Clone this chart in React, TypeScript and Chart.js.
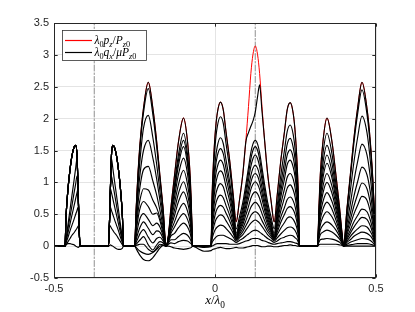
import React, { useEffect, useRef } from "react";
import { Chart, registerables } from "chart.js";

Chart.register(...registerables);

// x positions (x / lambda0) shared by all curves
const X = [
  -0.5,
  -0.4658, -0.4627, -0.4565, -0.4503, -0.4441, -0.4378, -0.4326, -0.4285, -0.4254, -0.4223, -0.4192,
  -0.3309, -0.3278, -0.3247, -0.3216, -0.3175, -0.3123, -0.306, -0.2998, -0.2936, -0.2874, -0.2843,
  -0.27,
  -0.2498, -0.2448, -0.2395, -0.2324, -0.2221, -0.2072, -0.1929, -0.1811, -0.1711, -0.1612, -0.1518,
  -0.1447, -0.1369, -0.1257, -0.1133, -0.0978, -0.0853, -0.0772, -0.0732, -0.0698,
  -0.0524, -0.0337,
  -0.012, -0.0095, -0.0054, 0.0008, 0.007, 0.0169, 0.0256, 0.034, 0.0459, 0.0567, 0.0657,
  0.076, 0.0866, 0.0959, 0.104, 0.1114, 0.1177, 0.125, 0.1323, 0.1385, 0.1459, 0.154, 0.1634, 0.1739, 0.1839,
  0.1932, 0.2041, 0.2159, 0.2243, 0.2336, 0.2429, 0.2491, 0.2554, 0.2594, 0.2622,
  0.2896,
  0.3185, 0.3228, 0.3269, 0.3353, 0.3477, 0.3632, 0.3757, 0.3869, 0.3952, 0.3993,
  0.4099, 0.4201, 0.4304, 0.4428, 0.4565, 0.472, 0.4823, 0.4894, 0.4947, 0.5,
];

// red: lambda0 p_z / P_z0
const P_RED = [
  0,
  0, 0.45, 0.9, 1.2, 1.42, 1.55, 1.58, 1.42, 0.92, 0.35, 0,
  0, 0.35, 0.92, 1.42, 1.58, 1.55, 1.42, 1.2, 0.9, 0.45, 0,
  0,
  0, 0.59, 1.11, 1.64, 2.16, 2.57, 2.16, 1.64, 1.11, 0.59, 0,
  0.17, 0.6, 1.11, 1.64, 2.01, 1.64, 1.11, 0.6, 0,
  0, 0,
  0, 0.7, 1.25, 1.78, 2.08, 2.26, 2.14, 1.8, 1.33, 0.8, 0.38,
  0.72, 1.14, 1.66, 2.19, 2.71, 3.0, 3.14, 3.0, 2.71, 2.19, 1.66, 1.14, 0.72, 0.38,
  0.8, 1.33, 1.8, 2.14, 2.25, 2.08, 1.78, 1.25, 0.7, 0,
  0,
  0, 0.6, 1.11, 1.64, 2.01, 1.64, 1.11, 0.6, 0.17, 0,
  0.59, 1.11, 1.64, 2.16, 2.57, 2.16, 1.64, 1.11, 0.59, 0,
];

// black: lambda0 q_x / mu P_z0 (family of curves)
const Q0 = [
  0,
  0, 0.45, 0.9, 1.2, 1.42, 1.55, 1.58, 1.42, 0.92, 0.35, 0,
  0, 0.35, 0.92, 1.42, 1.58, 1.55, 1.42, 1.2, 0.9, 0.45, 0,
  0,
  0, 0.59, 1.11, 1.64, 2.16, 2.57, 2.16, 1.64, 1.11, 0.59, 0,
  0.17, 0.6, 1.11, 1.64, 2.01, 1.64, 1.11, 0.6, 0,
  0, 0,
  0, 0.7, 1.25, 1.78, 2.08, 2.26, 2.14, 1.8, 1.33, 0.8, 0.38,
  0.72, 1.14, 1.64, 1.78, 1.88, 1.96, 2.1, 2.35, 2.53, 2.12, 1.66, 1.14, 0.72, 0.38,
  0.8, 1.33, 1.8, 2.14, 2.25, 2.08, 1.78, 1.25, 0.7, 0,
  0,
  0, 0.6, 1.11, 1.64, 2.01, 1.64, 1.11, 0.6, 0.17, 0,
  0.59, 1.11, 1.64, 2.16, 2.57, 2.16, 1.64, 1.11, 0.59, 0,
];
const Q1 = [
  0,
  0, 0.45, 0.9, 1.2, 1.42, 1.55, 1.58, 1.42, 0.92, 0.35, 0,
  0, 0.35, 0.92, 1.42, 1.58, 1.55, 1.42, 1.2, 0.9, 0.45, 0,
  0,
  0, 0.57, 1.07, 1.58, 2.09, 2.47, 2.06, 1.56, 1.05, 0.56, 0,
  0.15, 0.53, 0.98, 1.44, 1.77, 1.44, 0.98, 0.53, 0,
  0, 0,
  0, 0.63, 1.12, 1.6, 1.87, 2.03, 1.93, 1.62, 1.2, 0.72, 0.27,
  0.46, 0.69, 0.97, 1.23, 1.47, 1.6, 1.66, 1.6, 1.47, 1.23, 0.97, 0.69, 0.46, 0.27,
  0.63, 1.1, 1.51, 1.8, 1.9, 1.75, 1.5, 1.06, 0.59, 0,
  0,
  0, 0.53, 0.97, 1.45, 1.77, 1.45, 0.97, 0.53, 0.15, 0,
  0.56, 1.06, 1.57, 2.07, 2.45, 2.07, 1.57, 1.06, 0.56, 0,
];
const Q2 = [
  0,
  0, 0.45, 0.9, 1.2, 1.42, 1.55, 1.58, 1.42, 0.92, 0.35, 0,
  0, 0.35, 0.92, 1.42, 1.58, 1.55, 1.42, 1.2, 0.9, 0.45, 0,
  0,
  0, 0.5, 0.92, 1.38, 1.85, 2.05, 1.7, 1.28, 0.86, 0.46, 0,
  0.14, 0.5, 0.92, 1.35, 1.66, 1.35, 0.92, 0.5, 0,
  0, 0,
  0, 0.53, 0.94, 1.34, 1.56, 1.7, 1.61, 1.36, 1.0, 0.6, 0.2,
  0.39, 0.61, 0.88, 1.14, 1.37, 1.5, 1.56, 1.5, 1.37, 1.14, 0.88, 0.61, 0.39, 0.2,
  0.53, 0.96, 1.33, 1.6, 1.69, 1.55, 1.34, 0.95, 0.52, 0,
  0,
  0, 0.47, 0.87, 1.3, 1.58, 1.3, 0.87, 0.47, 0.13, 0,
  0.45, 0.86, 1.28, 1.7, 2.04, 1.78, 1.34, 0.9, 0.48, 0,
];
const Q3 = [
  0,
  0, 0.45, 0.9, 1.2, 1.42, 1.55, 1.58, 1.42, 0.92, 0.35, 0,
  0, 0.35, 0.92, 1.42, 1.58, 1.55, 1.42, 1.2, 0.9, 0.45, 0,
  0,
  0, 0.42, 0.78, 1.15, 1.5, 1.66, 1.38, 1.05, 0.72, 0.38, 0,
  0.14, 0.47, 0.86, 1.27, 1.56, 1.27, 0.86, 0.47, 0,
  0, 0,
  0, 0.47, 0.84, 1.21, 1.41, 1.53, 1.45, 1.22, 0.9, 0.54, 0.17,
  0.35, 0.55, 0.8, 1.04, 1.25, 1.37, 1.43, 1.37, 1.25, 1.04, 0.8, 0.55, 0.35, 0.17,
  0.46, 0.85, 1.19, 1.43, 1.51, 1.39, 1.19, 0.85, 0.47, 0,
  0,
  0, 0.43, 0.79, 1.17, 1.43, 1.17, 0.79, 0.43, 0.12, 0,
  0.35, 0.66, 0.99, 1.32, 1.6, 1.43, 1.08, 0.72, 0.38, 0,
];
const Q4 = [
  0,
  0, 0.45, 0.9, 1.2, 1.42, 1.55, 1.58, 1.42, 0.92, 0.35, 0,
  0, 0.35, 0.92, 1.42, 1.58, 1.55, 1.42, 1.2, 0.9, 0.45, 0,
  0,
  0, 0.35, 0.65, 0.95, 1.2, 1.25, 1.02, 0.8, 0.56, 0.3, 0,
  0.13, 0.43, 0.77, 1.13, 1.38, 1.13, 0.76, 0.41, 0,
  0, 0,
  0, 0.42, 0.74, 1.07, 1.24, 1.35, 1.28, 1.08, 0.8, 0.48, 0.15,
  0.31, 0.49, 0.71, 0.92, 1.11, 1.22, 1.27, 1.22, 1.11, 0.92, 0.71, 0.49, 0.31, 0.15,
  0.41, 0.76, 1.06, 1.28, 1.35, 1.24, 1.07, 0.76, 0.42, 0,
  0,
  0, 0.39, 0.72, 1.07, 1.3, 1.07, 0.72, 0.39, 0.11, 0,
  0.27, 0.51, 0.76, 1.01, 1.24, 1.12, 0.85, 0.56, 0.3, 0,
];
const Q5 = [
  0,
  0, 0.45, 0.9, 1.2, 1.42, 1.55, 1.58, 1.42, 0.92, 0.35, 0,
  0, 0.35, 0.92, 1.42, 1.58, 1.55, 1.42, 1.2, 0.9, 0.45, 0,
  0,
  0, 0.28, 0.52, 0.74, 0.9, 0.88, 0.72, 0.6, 0.45, 0.25, 0,
  0.12, 0.38, 0.67, 0.97, 1.19, 0.97, 0.66, 0.36, 0,
  0, 0,
  0, 0.37, 0.65, 0.93, 1.09, 1.18, 1.12, 0.94, 0.7, 0.42, 0.14,
  0.28, 0.44, 0.64, 0.83, 1.0, 1.1, 1.14, 1.1, 1.0, 0.83, 0.64, 0.44, 0.28, 0.14,
  0.36, 0.65, 0.9, 1.08, 1.14, 1.05, 0.9, 0.64, 0.35, 0,
  0,
  0, 0.35, 0.64, 0.94, 1.14, 0.94, 0.64, 0.35, 0.1, 0,
  0.22, 0.41, 0.61, 0.81, 0.99, 0.9, 0.68, 0.45, 0.24, 0,
];
const Q6 = [
  0,
  0, 0.45, 0.9, 1.2, 1.42, 1.55, 1.58, 1.42, 0.92, 0.35, 0,
  0, 0.35, 0.92, 1.42, 1.58, 1.55, 1.42, 1.2, 0.9, 0.45, 0,
  0,
  0, 0.22, 0.42, 0.6, 0.7, 0.62, 0.5, 0.52, 0.4, 0.2, 0,
  0.11, 0.33, 0.57, 0.83, 1.01, 0.82, 0.56, 0.3, 0,
  0, 0,
  0, 0.3, 0.54, 0.77, 0.9, 0.98, 0.93, 0.78, 0.58, 0.35, 0.13,
  0.25, 0.39, 0.57, 0.74, 0.89, 0.97, 1.01, 0.97, 0.89, 0.74, 0.57, 0.39, 0.25, 0.13,
  0.31, 0.55, 0.76, 0.91, 0.96, 0.88, 0.76, 0.54, 0.3, 0,
  0,
  0, 0.31, 0.57, 0.83, 1.0, 0.83, 0.57, 0.31, 0.09, 0,
  0.18, 0.33, 0.49, 0.64, 0.78, 0.72, 0.54, 0.36, 0.19, 0,
];
const Q7 = [
  0,
  0, 0.45, 0.9, 1.2, 1.42, 1.55, 1.58, 1.42, 0.92, 0.35, 0,
  0, 0.35, 0.92, 1.42, 1.58, 1.55, 1.42, 1.2, 0.9, 0.45, 0,
  0,
  0, 0.15, 0.3, 0.44, 0.51, 0.42, 0.32, 0.36, 0.3, 0.16, 0,
  0.1, 0.29, 0.48, 0.7, 0.85, 0.69, 0.47, 0.25, 0,
  0, 0,
  0, 0.25, 0.44, 0.63, 0.74, 0.8, 0.76, 0.64, 0.48, 0.3, 0.12,
  0.22, 0.34, 0.49, 0.62, 0.75, 0.82, 0.85, 0.82, 0.75, 0.62, 0.49, 0.34, 0.22, 0.12,
  0.26, 0.45, 0.61, 0.73, 0.77, 0.71, 0.61, 0.43, 0.24, 0,
  0,
  0, 0.27, 0.49, 0.7, 0.84, 0.7, 0.49, 0.27, 0.08, 0,
  0.14, 0.25, 0.37, 0.48, 0.58, 0.54, 0.41, 0.27, 0.14, 0,
];
const Q8 = [
  0,
  0, 0.11, 0.34, 0.57, 0.8, 1.03, 1.23, 1.375, 0.92, 0.35, 0,
  0, 0.35, 0.92, 1.375, 1.23, 1.03, 0.8, 0.57, 0.34, 0.11, 0,
  0,
  0, 0.1, 0.2, 0.3, 0.38, 0.28, 0.18, 0.24, 0.22, 0.12, 0,
  0.09, 0.24, 0.38, 0.55, 0.67, 0.55, 0.37, 0.2, 0,
  0, 0,
  0, 0.2, 0.35, 0.5, 0.59, 0.64, 0.61, 0.52, 0.39, 0.25, 0.11,
  0.19, 0.28, 0.4, 0.51, 0.61, 0.66, 0.69, 0.66, 0.61, 0.51, 0.4, 0.28, 0.19, 0.11,
  0.22, 0.37, 0.5, 0.59, 0.62, 0.57, 0.49, 0.35, 0.19, 0,
  0,
  0, 0.23, 0.41, 0.58, 0.69, 0.58, 0.41, 0.23, 0.07, 0,
  0.11, 0.2, 0.29, 0.38, 0.45, 0.42, 0.32, 0.21, 0.11, 0,
];
const Q9 = [
  0,
  0, 0.09, 0.28, 0.46, 0.64, 0.83, 0.98, 1.1, 0.92, 0.35, 0,
  0, 0.35, 0.92, 1.1, 0.98, 0.83, 0.64, 0.46, 0.28, 0.09, 0,
  0,
  0, 0.06, 0.12, 0.2, 0.26, 0.14, 0.05, 0.12, 0.14, 0.08, 0,
  0.08, 0.2, 0.3, 0.42, 0.51, 0.42, 0.28, 0.15, 0,
  0, 0,
  0, 0.15, 0.27, 0.39, 0.45, 0.49, 0.47, 0.4, 0.3, 0.2, 0.1,
  0.16, 0.23, 0.32, 0.4, 0.48, 0.52, 0.54, 0.52, 0.48, 0.4, 0.32, 0.23, 0.16, 0.1,
  0.18, 0.28, 0.37, 0.44, 0.46, 0.42, 0.36, 0.26, 0.14, 0,
  0,
  0, 0.19, 0.33, 0.46, 0.54, 0.46, 0.33, 0.19, 0.06, 0,
  0.08, 0.15, 0.21, 0.27, 0.32, 0.3, 0.23, 0.16, 0.08, 0,
];
const Q10 = [
  0,
  0, 0.07, 0.21, 0.35, 0.49, 0.63, 0.75, 0.84, 0.9, 0.35, 0,
  0, 0.35, 0.9, 0.84, 0.75, 0.63, 0.49, 0.35, 0.21, 0.07, 0,
  0,
  0, 0.03, 0.06, 0.1, 0.15, 0.02, -0.06, 0.02, 0.07, 0.05, 0,
  0.07, 0.16, 0.2, 0.29, 0.36, 0.3, 0.2, 0.11, 0,
  0, 0,
  0, 0.1, 0.18, 0.26, 0.3, 0.33, 0.32, 0.28, 0.21, 0.14, 0.08,
  0.13, 0.18, 0.25, 0.31, 0.36, 0.39, 0.41, 0.39, 0.36, 0.31, 0.25, 0.18, 0.13, 0.08,
  0.13, 0.19, 0.25, 0.29, 0.3, 0.28, 0.24, 0.17, 0.09, 0,
  0,
  0, 0.15, 0.25, 0.33, 0.38, 0.33, 0.25, 0.15, 0.05, 0,
  0.06, 0.1, 0.15, 0.19, 0.22, 0.2, 0.16, 0.11, 0.06, 0,
];
const Q11 = [
  0,
  0, 0.05, 0.14, 0.24, 0.33, 0.42, 0.5, 0.56, 0.61, 0.35, 0,
  0, 0.35, 0.61, 0.56, 0.5, 0.42, 0.33, 0.24, 0.14, 0.05, 0,
  0,
  0, 0.01, 0.02, 0.03, 0.03, -0.05, -0.09, -0.03, 0.03, 0.02, 0,
  0.05, 0.1, 0.1, 0.15, 0.2, 0.17, 0.11, 0.06, 0,
  0, 0,
  0, 0.05, 0.09, 0.13, 0.16, 0.17, 0.17, 0.15, 0.12, 0.09, 0.06,
  0.09, 0.12, 0.16, 0.19, 0.22, 0.24, 0.25, 0.24, 0.22, 0.19, 0.16, 0.12, 0.09, 0.06,
  0.08, 0.12, 0.14, 0.16, 0.17, 0.16, 0.13, 0.1, 0.05, 0,
  0,
  0, 0.11, 0.18, 0.22, 0.25, 0.22, 0.17, 0.11, 0.04, 0,
  0.03, 0.06, 0.08, 0.1, 0.12, 0.11, 0.09, 0.06, 0.03, 0,
];
const Q12 = [
  0,
  0, 0.02, 0.07, 0.12, 0.17, 0.21, 0.25, 0.28, 0.31, 0.33, 0,
  0, 0.33, 0.31, 0.28, 0.25, 0.21, 0.17, 0.12, 0.07, 0.02, 0,
  0,
  0, -0.02, -0.05, -0.08, -0.11, -0.13, -0.1, -0.05, 0, 0.01, 0,
  0.03, 0.05, 0.04, 0.07, 0.09, 0.08, 0.05, 0.03, 0,
  -0.01, -0.02,
  -0.01, 0, 0.01, 0.03, 0.04, 0.04, 0.04, 0.04, 0.03, 0.03, 0.03,
  0.04, 0.06, 0.08, 0.09, 0.11, 0.12, 0.12, 0.12, 0.11, 0.09, 0.08, 0.06, 0.04, 0.03,
  0.04, 0.05, 0.06, 0.07, 0.07, 0.06, 0.05, 0.04, 0.02, 0,
  0,
  0, 0.06, 0.1, 0.11, 0.12, 0.11, 0.09, 0.06, 0.02, 0,
  0.01, 0.02, 0.03, 0.04, 0.04, 0.04, 0.03, 0.02, 0.01, 0,
];
const Q13 = [
  0,
  0, 0.02, 0.04, 0.04, 0.03, 0.02, 0, -0.01, -0.02, -0.01, 0,
  0, 0.01, 0.02, 0.01, 0, -0.02, -0.04, -0.05, -0.05, -0.03, 0,
  0,
  0, -0.04, -0.09, -0.15, -0.21, -0.23, -0.18, -0.1, -0.03, 0.01, 0,
  0, -0.01, -0.03, -0.04, -0.05, -0.04, -0.03, -0.02, 0,
  -0.04, -0.08,
  -0.07, -0.06, -0.05, -0.04, -0.03, -0.02, -0.03, -0.04, -0.04, -0.03, -0.02,
  -0.03, -0.03, -0.02, -0.01, 0, 0.01, 0.01, 0.01, 0, -0.01, -0.01, 0, 0, -0.01,
  -0.01, 0, 0.01, 0.01, 0.02, 0.01, 0.01, 0, 0, 0,
  0,
  0, 0.02, 0.03, 0.03, 0.03, 0.03, 0.03, 0.02, 0.01, 0,
  0, 0, 0, 0, 0, 0, 0, 0, 0, 0,
];

const Q_CURVES = [Q0, Q1, Q2, Q3, Q4, Q5, Q6, Q7, Q8, Q9, Q10, Q11, Q12, Q13];

// vertical dash-dot reference lines
const V_LINES = [-0.375, 0.125];

// axis ranges / tick steps
const X_RANGE = [-0.5, 0.5];
const Y_RANGE = [-0.5, 3.5];
const TICK_STEP = 0.5;

// rich-text runs: [text, kind] kind: i = italic, r = roman, si/sr = subscript
const LEGEND_ITEMS = [
  { color: "#ff0000", runs: [["λ", "i"], ["0", "sr"], ["p", "i"], ["z", "si"], ["/", "r"], ["P", "i"], ["z", "si"], ["0", "sr"]] },
  { color: "#000000", runs: [["λ", "i"], ["0", "sr"], ["q", "i"], ["x", "si"], ["/", "r"], ["μ", "i"], ["P", "i"], ["z", "si"], ["0", "sr"]] },
];
const X_TITLE = [["x", "i"], ["/", "r"], ["λ", "i"], ["0", "sr"]];

const SERIF = '"Liberation Serif", "DejaVu Serif", serif';

function runFont(kind: string, size: number) {
  const sub = kind.startsWith("s");
  const ital = kind.endsWith("i");
  const fs = sub ? size * 0.72 : size;
  return { font: `${ital ? "italic " : ""}${fs}px ${SERIF}`, dy: sub ? size * 0.3 : 0 };
}

function runsWidth(ctx: CanvasRenderingContext2D, runs: string[][], size: number) {
  let w = 0;
  for (const [t, k] of runs) {
    ctx.font = runFont(k, size).font;
    w += ctx.measureText(t).width;
  }
  return w;
}

function drawRuns(ctx: CanvasRenderingContext2D, runs: string[][], x: number, y: number, size: number) {
  ctx.textAlign = "left";
  ctx.textBaseline = "alphabetic";
  for (const [t, k] of runs) {
    const f = runFont(k, size);
    ctx.font = f.font;
    ctx.fillText(t, x, y + f.dy);
    x += ctx.measureText(t).width;
  }
}

const fmtTick = (v: any) => String(Math.round(Number(v) * 10) / 10);

const framePlugin = {
  id: "matlabFrame",
  afterDatasetsDraw(chart: any) {
    const { ctx, chartArea, scales } = chart;
    const xs = scales.x;
    const ys = scales.y;
    const L = Math.round(chartArea.left) + 0.5;
    const R = Math.round(chartArea.right) - 0.5;
    const T = Math.round(chartArea.top) + 0.5;
    const B = Math.round(chartArea.bottom) - 0.5;
    ctx.save();
    ctx.strokeStyle = "#262626";
    ctx.lineWidth = 1;
    ctx.setLineDash([]);
    ctx.strokeRect(L, T, R - L, B - T);
    const tl = 3.2;
    ctx.beginPath();
    xs.ticks.forEach((t: any) => {
      const p = Math.round(xs.getPixelForValue(t.value)) + 0.5;
      ctx.moveTo(p, B);
      ctx.lineTo(p, B - tl);
      ctx.moveTo(p, T);
      ctx.lineTo(p, T + tl);
    });
    ys.ticks.forEach((t: any) => {
      const p = Math.round(ys.getPixelForValue(t.value)) + 0.5;
      ctx.moveTo(L, p);
      ctx.lineTo(L + tl, p);
      ctx.moveTo(R, p);
      ctx.lineTo(R - tl, p);
    });
    ctx.stroke();

    // legend box
    const bx = 62.5, by = 30.5, bw = 84, bh = 30;
    ctx.fillStyle = "#ffffff";
    ctx.fillRect(bx, by, bw, bh);
    ctx.strokeStyle = "#333333";
    ctx.lineWidth = 0.8;
    ctx.strokeRect(bx, by, bw, bh);
    LEGEND_ITEMS.forEach((item, i) => {
      const ly = 40.5 + i * 12;
      ctx.strokeStyle = item.color;
      ctx.lineWidth = 1.2;
      ctx.beginPath();
      ctx.moveTo(65, ly);
      ctx.lineTo(92, ly);
      ctx.stroke();
      ctx.fillStyle = "#000000";
      drawRuns(ctx, item.runs, 94.5, 44 + i * 11.8, 11.5);
    });

    // x-axis title
    const size = 13;
    const cx = (chartArea.left + chartArea.right) / 2;
    const w = runsWidth(ctx, X_TITLE, size);
    ctx.fillStyle = "#000000";
    drawRuns(ctx, X_TITLE, cx - w / 2, 304, size);
    ctx.restore();
  },
};

export default function App() {
  const ref = useRef<HTMLCanvasElement | null>(null);

  useEffect(() => {
    if (!ref.current) return;
    const pts = (ys: number[]) => X.map((x, i) => ({ x, y: ys[i] }));
    const datasets: any[] = [];
    V_LINES.forEach((v) => {
      datasets.push({
        data: [{ x: v, y: Y_RANGE[0] }, { x: v, y: Y_RANGE[1] }],
        borderColor: "rgba(80,80,80,0.8)",
        borderWidth: 0.8,
        borderDash: [6, 2, 1.5, 2],
        cubicInterpolationMode: "default",
        tension: 0,
        order: 3,
      });
    });
    datasets.push({ data: pts(P_RED), borderColor: "#ff0000", borderWidth: 1.0, order: 2 });
    Q_CURVES.forEach((q) => {
      datasets.push({ data: pts(q), borderColor: "#000000", borderWidth: 1.15, order: 1 });
    });

    const tickFont = { family: '"Liberation Sans", Arial, sans-serif', size: 11 };
    const chart = new Chart(ref.current, {
      type: "line",
      data: { datasets },
      options: {
        animation: false,
        responsive: false,
        devicePixelRatio: 1,
        events: [],
        layout: { padding: { left: 0, right: 39, top: 23, bottom: 0 } },
        plugins: { legend: { display: false }, tooltip: { enabled: false } },
        elements: {
          point: { radius: 0 },
          line: { cubicInterpolationMode: "monotone", borderCapStyle: "round", borderJoinStyle: "round" },
        },
        scales: {
          x: {
            type: "linear",
            min: X_RANGE[0],
            max: X_RANGE[1],
            ticks: { stepSize: TICK_STEP, color: "#262626", font: tickFont, padding: 4, maxRotation: 0, callback: fmtTick },
            grid: { color: "#e4e4e4", drawTicks: false },
            border: { display: false },
            afterFit: (s: any) => {
              s.height = 34;
            },
          },
          y: {
            type: "linear",
            min: Y_RANGE[0],
            max: Y_RANGE[1],
            ticks: { stepSize: TICK_STEP, color: "#262626", font: tickFont, padding: 5, callback: fmtTick },
            grid: { color: "#e4e4e4", drawTicks: false },
            border: { display: false },
            afterFit: (s: any) => {
              s.width = 54;
            },
          },
        },
      },
      plugins: [framePlugin],
    } as any);
    return () => chart.destroy();
  }, []);

  return (
    <div style={{ position: "fixed", left: 0, top: 0, width: 415, height: 312, background: "#fff" }}>
      <canvas ref={ref} width={415} height={312} style={{ display: "block", width: 415, height: 312 }} />
    </div>
  );
}
